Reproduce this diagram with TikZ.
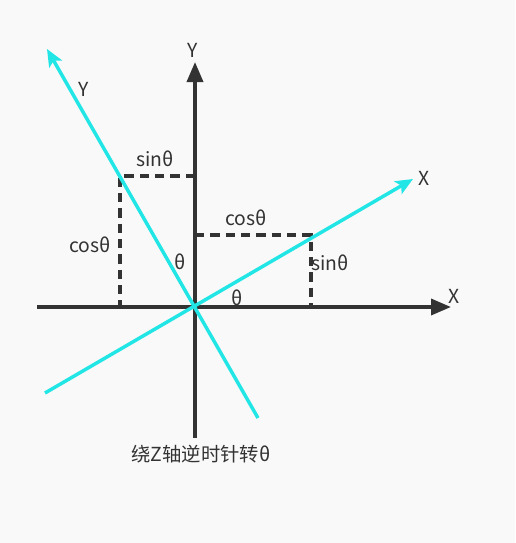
\documentclass[tikz,border=0pt]{standalone}
\usepackage{fontspec}
\setmainfont{Noto Sans CJK SC}
\usetikzlibrary{arrows.meta}
\definecolor{bg}{HTML}{F9F9F9}
\definecolor{ax}{HTML}{333333}
\definecolor{cy}{HTML}{22E6E6}
\begin{document}
\begin{tikzpicture}[x=0.75pt,y=-0.75pt,
  axis/.style={ax,line width=2.6pt,-{Triangle[length=15pt,width=12pt]}},
  rot/.style={cy,line width=2.6pt,-{Stealth[length=13pt,width=11pt,inset=3pt]}},
  dsh/.style={ax,line width=2.6pt,dash pattern=on 7pt off 4.5pt},
  lab/.style={text=ax,font=\fontsize{14.5}{16}\selectfont,inner sep=0pt}]
\fill[bg] (0,0) rectangle (515,543);
\useasboundingbox (0,0) rectangle (515,543);
\coordinate (O) at (195,307);
\coordinate (xl) at (37,307);
\coordinate (xr) at (451,307);
\coordinate (yb) at (195,438);
\coordinate (yt) at (195,62);
\coordinate (xa) at (45,393);
\coordinate (xb) at (413,179);
\coordinate (ya) at (258,418);
\coordinate (yb2) at (47,49);
\coordinate (P) at (120,176);
\coordinate (Py) at (195,176);
\coordinate (Px) at (120,307);
\coordinate (Q) at (311,235);
\coordinate (Qy) at (195,235);
\coordinate (Qx) at (311,307);
\draw[axis] (xl) -- (xr);
\draw[axis] (yb) -- (yt);
\draw[dsh] (Py) -- (P) -- (Px);
\draw[dsh] (Qy) -- (Q) -- (Qx);
\draw[rot] (xa) -- (xb);
\draw[rot] (ya) -- (yb2);
\node[lab] (lY) at (193,50) {Y};
\node[lab] (lX) at (454,296) {X};
\node[lab] (lX2) at (424,178) {X};
\node[lab] (lY2) at (84,89) {Y};
\node[lab] (s1) at (155,159) {sinθ};
\node[lab] (c1) at (90,245) {cosθ};
\node[lab] (t1) at (180,262) {θ};
\node[lab] (c2) at (246,218) {cosθ};
\node[lab] (s2) at (330,263) {sinθ};
\node[lab] (t2) at (237,298) {θ};
\node[lab] (cap) at (201,454) {绕Z轴逆时针转θ};
\end{tikzpicture}
\end{document}
